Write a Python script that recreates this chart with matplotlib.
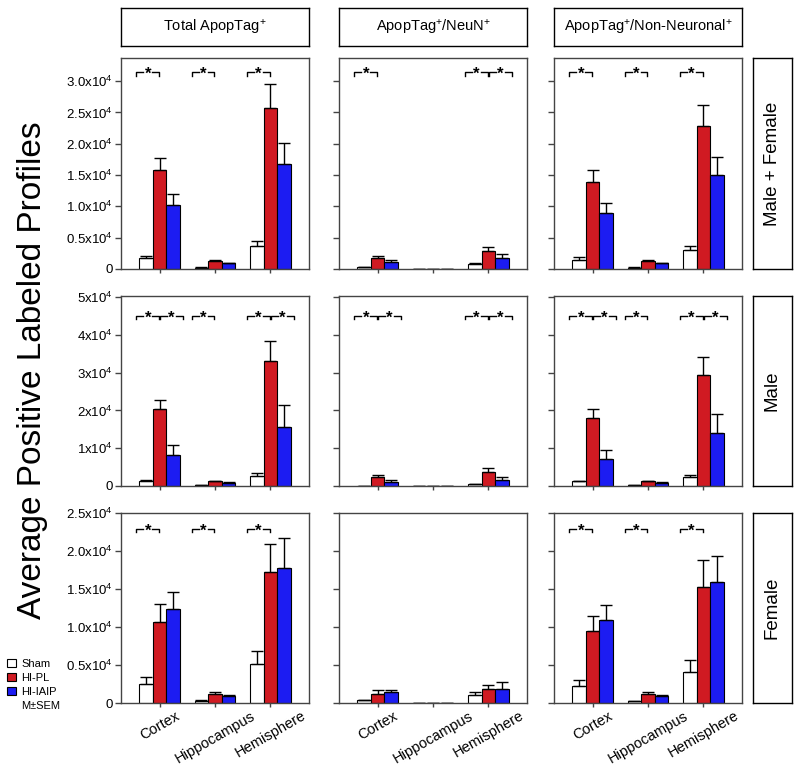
import numpy as np
import matplotlib.pyplot as plt
import matplotlib.transforms as mtransforms
from matplotlib.patches import Patch

plt.rcParams['font.family'] = ['Liberation Sans', 'DejaVu Sans']
plt.rcParams['mathtext.fontset'] = 'custom'
plt.rcParams['mathtext.rm'] = 'Liberation Sans'
plt.rcParams['mathtext.it'] = 'Liberation Sans:italic'
plt.rcParams['mathtext.bf'] = 'Liberation Sans:bold'

regions = ['Cortex', 'Hippocampus', 'Hemisphere']
groups = ['Sham', 'HI-PL', 'HI-IAIP']
measures = ['Total ApopTag$^{+}$', 'ApopTag$^{+}$/NeuN$^{+}$', 'ApopTag$^{+}$/Non-Neuronal$^{+}$']
sexes = ['Male + Female', 'Male', 'Female']
colors = ['white', '#D01A22', '#1C1CF2']

# means / SEM: rows = Sham, HI-PL, HI-IAIP ; columns = Cortex, Hippocampus, Hemisphere
mf_total_mean = [[1800, 200, 3700], [15800, 1300, 25700], [10200, 900, 16800]]
mf_total_sem = [[300, 50, 800], [1900, 100, 3800], [1800, 100, 3300]]
mf_neun_mean = [[300, 40, 800], [1800, 40, 2900], [1100, 40, 1800]]
mf_neun_sem = [[50, 10, 200], [300, 10, 600], [300, 10, 600]]
mf_non_mean = [[1400, 200, 3000], [13900, 1300, 22800], [8900, 900, 15000]]
mf_non_sem = [[500, 50, 700], [1900, 100, 3400], [1600, 100, 2900]]

m_total_mean = [[1200, 300, 2600], [20400, 1200, 33100], [8200, 800, 15700]]
m_total_sem = [[300, 50, 800], [2400, 200, 5200], [2700, 200, 5700]]
m_neun_mean = [[100, 40, 500], [2400, 40, 3700], [1000, 40, 1600]]
m_neun_sem = [[30, 10, 100], [500, 10, 1100], [500, 10, 800]]
m_non_mean = [[1200, 200, 2400], [18000, 1200, 29400], [7200, 800, 14100]]
m_non_sem = [[200, 30, 500], [2400, 200, 4800], [2400, 200, 5000]]

f_total_mean = [[2500, 300, 5100], [10700, 1200, 17200], [12400, 900, 17800]]
f_total_sem = [[900, 50, 1700], [2300, 200, 3700], [2200, 200, 3900]]
f_neun_mean = [[400, 40, 1000], [1200, 40, 1800], [1400, 40, 1800]]
f_neun_sem = [[50, 10, 500], [500, 10, 600], [300, 10, 1000]]
f_non_mean = [[2200, 200, 4100], [9500, 1200, 15300], [10900, 900, 15900]]
f_non_sem = [[800, 30, 1600], [1900, 200, 3500], [2000, 200, 3400]]

# significance brackets: (region index, 'a' = Sham vs HI-PL, 'b' = HI-PL vs HI-IAIP)
mf_total_sig = [(0, 'a'), (1, 'a'), (2, 'a')]
mf_neun_sig = [(0, 'a'), (2, 'a'), (2, 'b')]
mf_non_sig = [(0, 'a'), (1, 'a'), (2, 'a')]
m_total_sig = [(0, 'a'), (0, 'b'), (1, 'a'), (2, 'a'), (2, 'b')]
m_neun_sig = [(0, 'a'), (0, 'b'), (2, 'a'), (2, 'b')]
m_non_sig = [(0, 'a'), (0, 'b'), (1, 'a'), (2, 'a'), (2, 'b')]
f_total_sig = [(0, 'a'), (1, 'a'), (2, 'a')]
f_neun_sig = []
f_non_sig = [(0, 'a'), (1, 'a'), (2, 'a')]

panels = [
    [(mf_total_mean, mf_total_sem, mf_total_sig), (mf_neun_mean, mf_neun_sem, mf_neun_sig), (mf_non_mean, mf_non_sem, mf_non_sig)],
    [(m_total_mean, m_total_sem, m_total_sig), (m_neun_mean, m_neun_sem, m_neun_sig), (m_non_mean, m_non_sem, m_non_sig)],
    [(f_total_mean, f_total_sem, f_total_sig), (f_neun_mean, f_neun_sem, f_neun_sig), (f_non_mean, f_non_sem, f_non_sig)],
]

row_yticks = [[0, 5000, 10000, 15000, 20000, 25000, 30000],
              [0, 10000, 20000, 30000, 40000, 50000],
              [0, 5000, 10000, 15000, 20000, 25000]]
row_yticklabels = [['0', '0.5x10$^{4}$', '1.0x10$^{4}$', '1.5x10$^{4}$', '2.0x10$^{4}$', '2.5x10$^{4}$', '3.0x10$^{4}$'],
                   ['0', '1x10$^{4}$', '2x10$^{4}$', '3x10$^{4}$', '4x10$^{4}$', '5x10$^{4}$'],
                   ['0', '0.5x10$^{4}$', '1.0x10$^{4}$', '1.5x10$^{4}$', '2.0x10$^{4}$', '2.5x10$^{4}$']]
row_ymax = [33700, 50300, 25000]

W, H = 800, 770
fig = plt.figure(figsize=(8, 7.7), dpi=100)

col_left = [121, 339, 554]
col_w = 188
row_top = [58, 296, 513]
row_h = [211, 190, 190]
bracket_y = [0.933, 0.895, 0.915]

x = np.arange(3)
bw = 0.245
spine_col = '#444444'

for r in range(3):
    for c in range(3):
        mean, sem, sig = panels[r][c]
        ax = fig.add_axes([col_left[c] / W, 1 - (row_top[r] + row_h[r]) / H, col_w / W, row_h[r] / H])
        for k in range(3):
            ax.bar(x + (k - 1) * bw, mean[k], bw, color=colors[k], edgecolor='black', linewidth=0.8,
                   yerr=[np.zeros(3), sem[k]],
                   error_kw=dict(ecolor='black', elinewidth=1, capsize=4, capthick=1))
        ax.set_xlim(-0.70, 2.70)
        ax.set_ylim(0, row_ymax[r])
        ax.tick_params(axis='y', direction='out', length=4, width=1, color=spine_col, labelsize=9.5, pad=2)
        ax.tick_params(axis='x', direction='out', length=3, width=1, color=spine_col, pad=1)
        ax.set_yticks(row_yticks[r])
        if c == 0:
            ax.set_yticklabels(row_yticklabels[r])
        else:
            ax.set_yticklabels([])
        ax.set_xticks(x)
        if r == 2:
            ax.set_xticklabels(regions, fontsize=10.5)
            for lab in ax.get_xticklabels():
                lab.set_rotation(30)
                lab.set_ha('center')
                lab.set_va('top')
        else:
            ax.set_xticklabels([])
        for s in ax.spines.values():
            s.set_color(spine_col)
            s.set_linewidth(1)

        # significance brackets
        trans = mtransforms.blended_transform_factory(ax.transData, ax.transAxes)
        yb = bracket_y[r]
        for reg, kind in sig:
            if kind == 'a':
                x0, x1 = reg - 0.42, reg - 0.01
            else:
                x0, x1 = reg + 0.01, reg + 0.42
            xm = (x0 + x1) / 2
            ax.plot([x0, x0, xm - 0.08], [yb - 0.016, yb, yb], color='black', lw=1, transform=trans, clip_on=False)
            ax.plot([xm + 0.08, x1, x1], [yb, yb, yb - 0.016], color='black', lw=1, transform=trans, clip_on=False)
            ax.text(xm, yb - 0.012, '*', transform=trans, ha='center', va='center', fontsize=12, fontweight='bold')

# column headers
for c in range(3):
    hax = fig.add_axes([col_left[c] / W, 1 - 46 / H, col_w / W, 38 / H])
    hax.set_xticks([])
    hax.set_yticks([])
    for s in hax.spines.values():
        s.set_linewidth(1)
    hax.text(0.5, 0.5, measures[c], ha='center', va='center', fontsize=10.5, transform=hax.transAxes)

# row labels
for r in range(3):
    rax = fig.add_axes([753 / W, 1 - (row_top[r] + row_h[r]) / H, 39 / W, row_h[r] / H])
    rax.set_xticks([])
    rax.set_yticks([])
    for s in rax.spines.values():
        s.set_linewidth(1)
    rax.text(0.5, 0.5, sexes[r], rotation=90, ha='center', va='center', fontsize=13.5, transform=rax.transAxes)

fig.text(33 / W, 1 - 370 / H, 'Average Positive Labeled Profiles', rotation=90,
         ha='center', va='center', fontsize=24)

handles = [Patch(facecolor=colors[k], edgecolor='black', linewidth=0.8) for k in range(3)]
handles.append(Patch(facecolor='none', edgecolor='none'))
fig.legend(handles, groups + ['M±SEM'], loc='upper left', bbox_to_anchor=(0.0, 1 - 652 / H),
           frameon=False, fontsize=8, handlelength=0.8, handleheight=0.8, handletextpad=0.5,
           labelspacing=0.35, borderaxespad=0.2)

fig.savefig('out.png', dpi=100)
